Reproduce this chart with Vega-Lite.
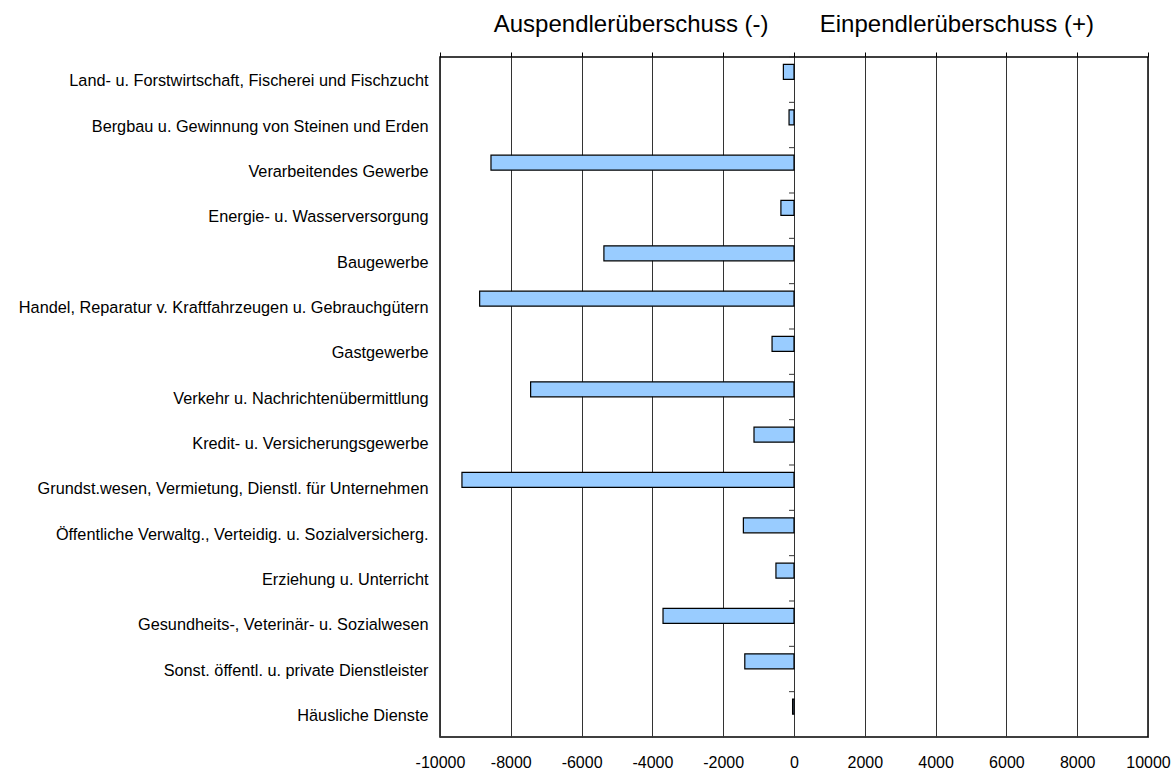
{
  "$schema": "https://vega.github.io/schema/vega-lite/v6.json",
  "autosize": "none",
  "width": 708,
  "height": 680,
  "padding": {"left": 440, "top": 57, "right": 26, "bottom": 34},
  "background": "white",
  "config": {
    "font": "Liberation Sans",
    "view": {"stroke": "#000", "strokeWidth": 1.5}
  },
  "data": {
    "values": [
      {"Wirtschaftszweig": "Land- u. Forstwirtschaft, Fischerei und Fischzucht", "Saldo": -300},
      {"Wirtschaftszweig": "Bergbau u. Gewinnung von Steinen und Erden", "Saldo": -140},
      {"Wirtschaftszweig": "Verarbeitendes Gewerbe", "Saldo": -8560},
      {"Wirtschaftszweig": "Energie- u. Wasserversorgung", "Saldo": -370},
      {"Wirtschaftszweig": "Baugewerbe", "Saldo": -5370},
      {"Wirtschaftszweig": "Handel, Reparatur v. Kraftfahrzeugen u. Gebrauchgütern", "Saldo": -8880},
      {"Wirtschaftszweig": "Gastgewerbe", "Saldo": -620},
      {"Wirtschaftszweig": "Verkehr u. Nachrichtenübermittlung", "Saldo": -7440},
      {"Wirtschaftszweig": "Kredit- u. Versicherungsgewerbe", "Saldo": -1130},
      {"Wirtschaftszweig": "Grundst.wesen, Vermietung, Dienstl. für Unternehmen", "Saldo": -9380},
      {"Wirtschaftszweig": "Öffentliche Verwaltg., Verteidig. u. Sozialversicherg.", "Saldo": -1430},
      {"Wirtschaftszweig": "Erziehung u. Unterricht", "Saldo": -510},
      {"Wirtschaftszweig": "Gesundheits-, Veterinär- u. Sozialwesen", "Saldo": -3700},
      {"Wirtschaftszweig": "Sonst. öffentl. u. private Dienstleister", "Saldo": -1390},
      {"Wirtschaftszweig": "Häusliche Dienste", "Saldo": -40}
    ]
  },
  "layer": [
    {
      "mark": {"type": "bar", "height": 15, "yOffset": -7.7, "fill": "#99CCFF", "stroke": "#000", "strokeWidth": 1.2},
      "encoding": {
        "y": {
          "field": "Wirtschaftszweig", "type": "nominal", "sort": null,
          "scale": {"paddingInner": 0, "paddingOuter": 0},
          "axis": {"title": null, "orient": "left", "ticks": false, "domain": false, "labelPadding": 12, "labelOffset": 1.5, "labelLimit": 600, "labelFontSize": 16.3, "labelColor": "#000", "labelFont": "Liberation Sans"}
        },
        "x": {
          "field": "Saldo", "type": "quantitative",
          "scale": {"domain": [-10000, 10000], "nice": false, "zero": false},
          "axis": {"title": null, "orient": "bottom", "values": [-10000, -8000, -6000, -4000, -2000, 0, 2000, 4000, 6000, 8000, 10000], "labelExpr": "datum.value + ''", "ticks": false, "domain": false, "labelPadding": 17, "labelFontSize": 16, "labelColor": "#000", "labelFont": "Liberation Sans", "grid": true, "gridColor": "#333", "gridWidth": 1, "gridOpacity": 1, "labelFlush": false, "labelOverlap": false}
        }
      }
    },
    {
      "mark": {"type": "rule", "yOffset": -22.67, "color": "#333", "strokeWidth": 1},
      "encoding": {
        "y": {"field": "Wirtschaftszweig", "type": "nominal", "sort": null},
        "x": {"datum": -140, "type": "quantitative", "axis": {"title": null, "orient": "top", "values": [-10000, -8000, -6000, -4000, -2000, 0, 2000, 4000, 6000, 8000, 10000], "labels": false, "ticks": true, "tickSize": 5, "tickColor": "#000", "domain": false, "grid": false}},
        "x2": {"datum": 0}
      }
    },
    {
      "data": {"values": [{"t": "Auspendlerüberschuss (-)", "p": -4600}, {"t": "Einpendlerüberschuss (+)", "p": 4600}]},
      "mark": {"type": "text", "fontSize": 24, "font": "Liberation Sans", "color": "#000", "baseline": "alphabetic", "align": "center", "y": -25},
      "encoding": {
        "x": {"field": "p", "type": "quantitative", "axis": null},
        "text": {"field": "t"}
      }
    }
  ],
  "resolve": {"axis": {"x": "independent"}}
}
